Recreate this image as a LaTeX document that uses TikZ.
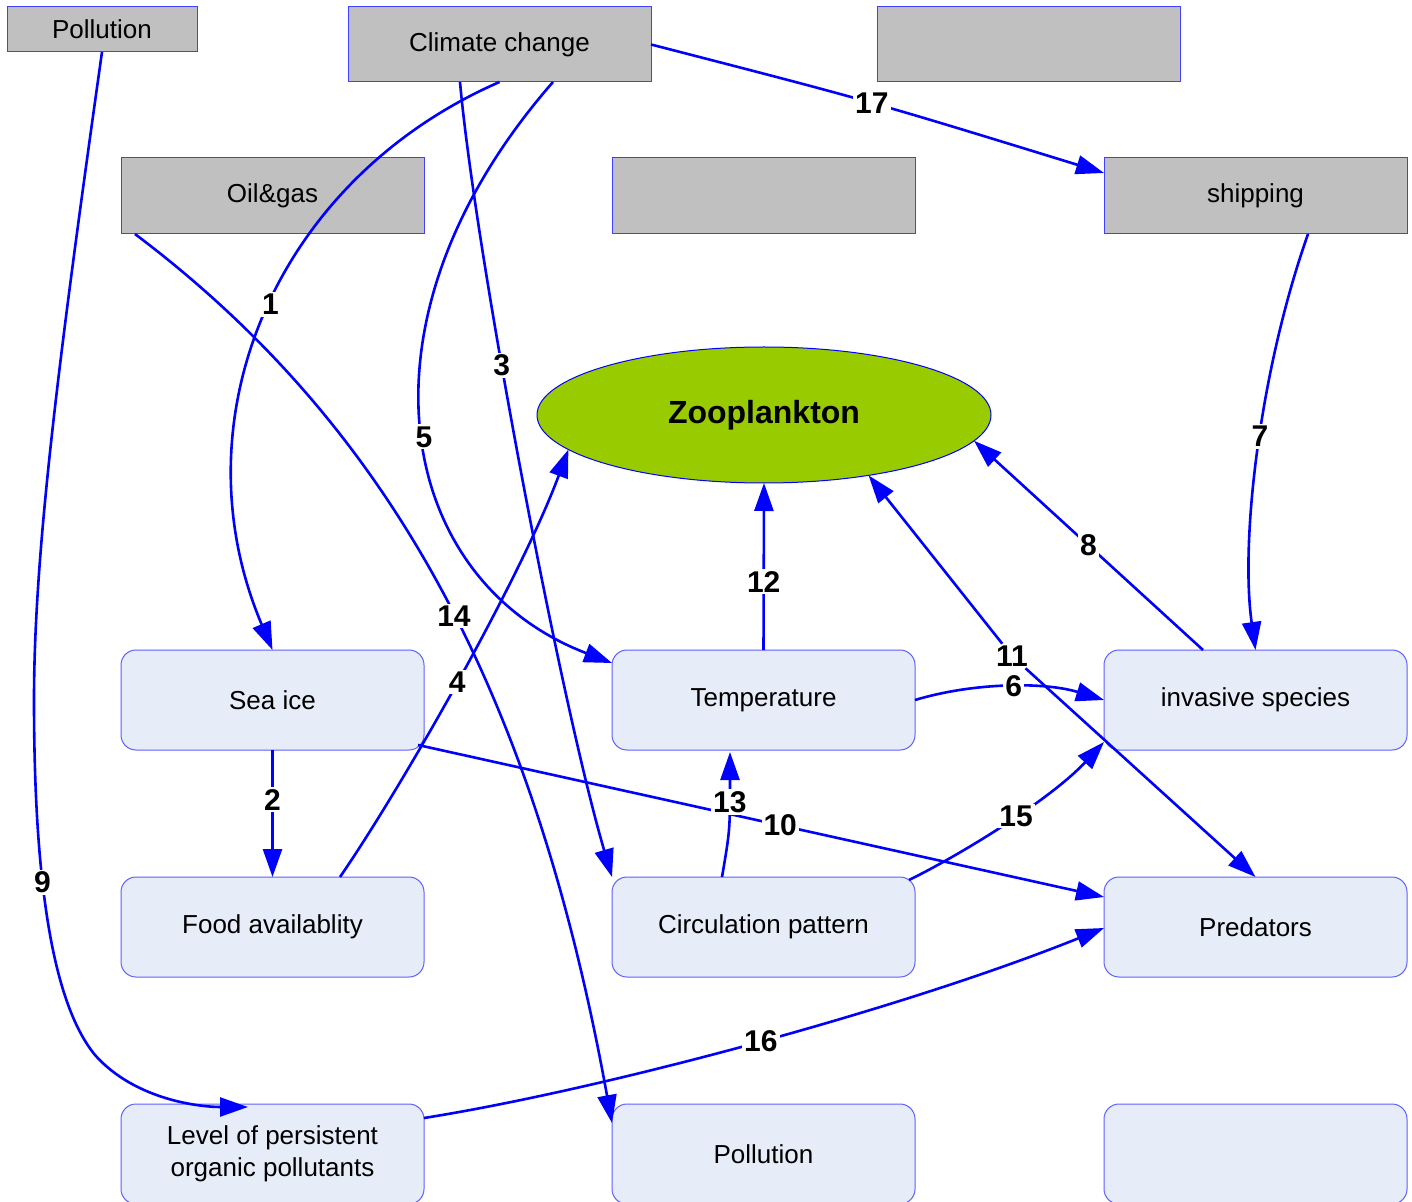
\documentclass[tikz,border=0pt]{standalone}
\usepackage{fontspec}
\setmainfont{Liberation Sans}
\usetikzlibrary{arrows.meta,shapes.geometric}
\definecolor{edgeblue}{RGB}{0,0,255}
\definecolor{boxgray}{RGB}{192,192,192}
\definecolor{boxline}{RGB}{64,64,255}
\definecolor{conceptfill}{RGB}{230,236,248}
\definecolor{conceptline}{RGB}{96,96,255}
\definecolor{zoogreen}{RGB}{153,204,0}
\begin{document}
\begin{tikzpicture}[x=0.5pt,y=-0.5pt,
  every node/.style={inner sep=0pt, outer sep=0pt},
  source/.style={draw=boxline, line width=0.5pt, fill=boxgray,
    minimum width=151.5pt, minimum height=37.5pt, font=\fontsize{13}{15}\selectfont},
  concept/.style={draw=conceptline, line width=0.5pt, fill=conceptfill,
    rounded corners=7.5pt, minimum width=151.5pt, minimum height=50pt,
    align=center, font=\fontsize{13}{16}\selectfont},
  edge/.style={draw=edgeblue, line width=1.3pt, -{Triangle[length=14pt,width=9.5pt]}},
  lab/.style={fill=white, inner sep=1pt, font=\bfseries\fontsize{15}{15}\selectfont},
]
\fill[white] (0,0) rectangle (1412,1202);
\useasboundingbox (0,0) rectangle (1412,1202);

% drivers (grey boxes)
\node[source, minimum width=95pt, minimum height=22.5pt] (pol1) at (102,29.5) {Pollution};
\node[source] (cc) at (499.5,44.5) {Climate change};
\node[source] (blank1) at (1028.5,44.5) {};
\node[source, minimum height=38pt] (oil) at (272.5,196) {Oil\&gas};
\node[source, minimum height=38pt] (blank2) at (763.5,196) {};
\node[source, minimum height=38pt] (ship) at (1255.5,196) {shipping};

% central concept
\node[draw=edgeblue, line width=0.5pt, fill=zoogreen, ellipse,
  minimum width=227pt, minimum height=68pt,
  font=\bfseries\fontsize{16}{16}\selectfont] (zoo) at (764,415) {Zooplankton};

% concepts (rounded boxes)
\node[concept] (sea)  at (272.5,700) {Sea ice};
\node[concept] (temp) at (763.5,700) {Temperature};
\node[concept] (inv)  at (1255.5,700) {invasive species};
\node[concept] (food) at (272.5,927) {Food availablity};
\node[concept] (circ) at (763.5,927) {Circulation pattern};
\node[concept] (pred) at (1255.5,927) {Predators};
\node[concept] (pop)  at (272.5,1154) {Level of persistent\\organic pollutants};
\node[concept] (pol2) at (763.5,1154) {Pollution};
\node[concept] (blank3) at (1255.5,1154) {};

% links
\draw[edge] (cc.south) .. controls (275,180) and (175,420) .. node[lab,pos=0.48]{1} (sea.north);
\draw[edge] (sea.south) -- node[lab,pos=0.39]{2} (food.north);
\draw[edge] ([shift={(-39.5,0)}]cc.south) .. controls (475,250) and (560,700) .. node[lab,pos=0.38]{3} (circ.north west);
\draw[edge] ([shift={(67.5,0)}]food.north) .. controls (400,790) and (520,580) .. node[lab,pos=0.495]{4} (zoo.190.7);
\draw[edge] ([shift={(53.5,0)}]cc.south) .. controls (345,320) and (395,580) .. node[lab,pos=0.51]{5} ([shift={(0,13)}]temp.north west);
\draw[edge] (temp.east) .. controls (975,682) and (1045,682) .. node[lab,pos=0.52]{6} (inv.west);
\draw[edge] ([shift={(52.5,0)}]ship.south) .. controls (1260,370) and (1240,540) .. node[lab,pos=0.465]{7} (inv.north);
\draw[edge] ([shift={(-52.5,0)}]inv.north) -- node[lab,pos=0.5]{8} (zoo.-7.3);
\draw[edge] (pol1.south) .. controls (60,350) and (34,550) .. (34,700)
  .. controls (34,870) and (50,1000) .. node[lab,pos=0.4]{9} (95,1055)
  .. controls (135,1100) and (200,1107) .. ([shift={(-24.5,3)}]pop.north);
\draw[edge] ([shift={(-6,-5)}]sea.south east) -- node[lab,pos=0.528]{10} ([shift={(0,-30)}]pred.west);
\node[lab] (l11) at (1012,656) {11};
\draw[edge] (l11) -- (zoo.-30.3);
\draw[edge] (l11) -- (pred.north);
\draw[edge] (temp.north) -- node[lab,pos=0.41]{12} (zoo.south);
\draw[edge] ([shift={(-41.5,0)}]circ.north) .. controls (730,830) .. node[lab,pos=0.72]{13} ([shift={(-33.5,2)}]temp.south);
\draw[edge] ([shift={(14,0)}]oil.south west) .. controls (391,427) and (534,693) .. node[lab,pos=0.53]{14} ([shift={(0,19)}]pol2.north west);
\draw[edge] ([shift={(-6,3)}]circ.north east) .. controls (960,855) and (1050,800) .. node[lab,pos=0.55]{15} ([shift={(0,-8)}]inv.south west);
\draw[edge] ([shift={(0,14)}]pop.north east) .. controls (600,1090) and (900,1010) .. node[lab,pos=0.51]{16} ([shift={(0,1)}]pred.west);
\draw[edge] (cc.east) .. controls (870,101) .. node[lab,pos=0.5]{17} ([shift={(0,15)}]ship.north west);
\end{tikzpicture}
\end{document}
